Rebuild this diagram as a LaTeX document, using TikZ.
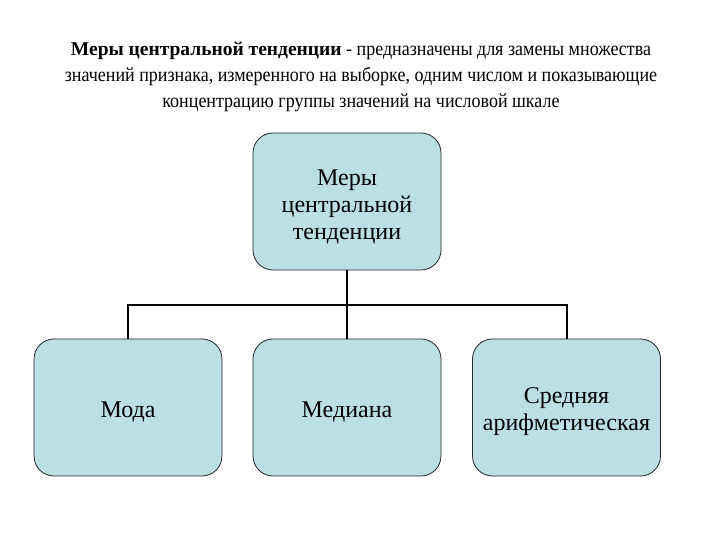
\documentclass[tikz,border=0pt]{standalone}
\usepackage{fontspec}
\setmainfont{Liberation Serif}
\newfontfamily\boxfont{Liberation Serif}
\newfontfamily\titlefont[FakeStretch=0.9]{Liberation Serif}
\newfontfamily\titlebold[BoldFont={Liberation Serif Bold}]{Liberation Serif}
\definecolor{boxfill}{RGB}{187,223,227}
\begin{document}
\begin{tikzpicture}[x=1pt,y=1pt,
  mbox/.style={draw=black!85, line width=0.8pt, fill=boxfill, rounded corners=20pt,
    minimum width=188pt, minimum height=137pt, inner sep=0pt},
  btext/.style={align=center, inner sep=0pt, font=\boxfont\fontsize{24}{27}\selectfont},
  conn/.style={line width=2pt, black}]
\useasboundingbox (0,0) rectangle (720,540);
\node[align=center, font=\titlefont\fontsize{20}{26}\selectfont] (title) at (361,463)
  {{\titlebold\fontsize{19.5}{26}\selectfont\bfseries Меры центральной тенденции} - предназначены для замены множества\\
   значений признака, измеренного на выборке, одним числом и показывающие\\
   концентрацию группы значений на числовой шкале};
\node[mbox] (top) at (347,338.5) {};
\node[mbox] (moda) at (128,132.5) {};
\node[mbox] (med) at (347,132.5) {};
\node[mbox] (avg) at (566.5,132.5) {};
\node[btext] (toptext) at ([yshift=-5pt]top.center) {Меры\\центральной\\тенденции};
\node[btext] (modatext) at ([yshift=-4pt]moda.center) {Мода};
\node[btext] (medtext) at ([yshift=-4pt]med.center) {Медиана};
\node[btext] (avgtext) at ([yshift=-4pt]avg.center) {Средняя\\арифметическая};
\coordinate (bar) at (347,235);
\draw[conn] (top.south) -- (top.south |- bar);
\draw[conn] (moda.north) |- (bar) -| (avg.north);
\draw[conn] (med.north) -- (bar);
\end{tikzpicture}
\end{document}
